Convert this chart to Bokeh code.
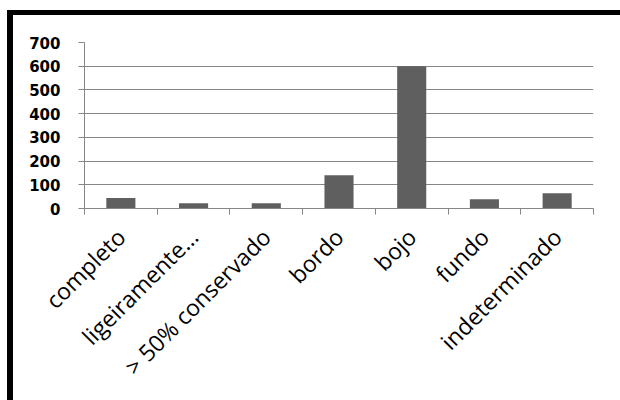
import math
from bokeh.plotting import figure
from bokeh.models import FixedTicker, Range1d, ColumnDataSource, InlineStyleSheet
from bokeh.embed import file_html
from bokeh.resources import INLINE

categories = ["completo", "ligeiramente…", "> 50% conservado", "bordo", "bojo", "fundo", "indeterminado"]
counts = [44, 22, 22, 140, 600, 39, 64]
y_ticks = [0, 100, 200, 300, 400, 500, 600, 700]

centers = [i + 0.5 for i in range(len(categories))]
source = ColumnDataSource(dict(x=centers, top=counts))

# thick black frame along the top and left edges of the chart box
frame_css = InlineStyleSheet(css="""
:host { position: relative; }
:host::after {
  content: '';
  position: absolute;
  left: 7px; top: 10px; right: 0; bottom: 0;
  border-top: 5px solid black;
  border-left: 6px solid black;
  pointer-events: none;
}
""")

p = figure(width=620, height=400, output_backend="svg", toolbar_location=None,
           x_range=Range1d(0, len(categories)), y_range=Range1d(0, 700),
           min_border_left=84, min_border_right=27, min_border_top=42, min_border_bottom=192,
           stylesheets=[frame_css])
p.outline_line_color = None
p.background_fill_color = "white"
p.border_fill_color = "white"

p.vbar(x="x", top="top", width=0.4, source=source, fill_color="#5f5f5f", line_color=None)

# horizontal gridlines
p.ygrid.ticker = FixedTicker(ticks=y_ticks)
p.ygrid.grid_line_color = "#868686"
p.ygrid.grid_line_width = 1
p.xgrid.grid_line_color = None

# y axis
p.yaxis.ticker = FixedTicker(ticks=y_ticks)
p.yaxis.axis_line_color = "#868686"
p.yaxis.major_tick_line_color = "#868686"
p.yaxis.major_tick_out = 6
p.yaxis.major_tick_in = 0
p.yaxis.minor_tick_line_color = None
p.yaxis.major_label_text_font = "DejaVu Sans"
p.yaxis.major_label_text_font_style = "bold"
p.yaxis.major_label_text_font_size = "15px"
p.yaxis.major_label_text_color = "black"
p.yaxis.major_label_standoff = 18

# x axis: labels at category centers, ticks on the category boundaries
p.xaxis.ticker = FixedTicker(ticks=centers, minor_ticks=list(range(len(categories) + 1)))
p.xaxis.major_label_overrides = {c: lab for c, lab in zip(centers, categories)}
p.xaxis.major_label_orientation = math.pi / 4
p.xaxis.axis_line_color = "#868686"
p.xaxis.major_tick_line_color = None
p.xaxis.minor_tick_line_color = "#868686"
p.xaxis.minor_tick_out = 6
p.xaxis.minor_tick_in = 0
p.xaxis.major_label_text_font = "Open Sans"
p.xaxis.major_label_text_font_size = "23px"
p.xaxis.major_label_text_color = "black"
p.xaxis.major_label_standoff = 18

open("out.html", "w").write(file_html(p, INLINE))
